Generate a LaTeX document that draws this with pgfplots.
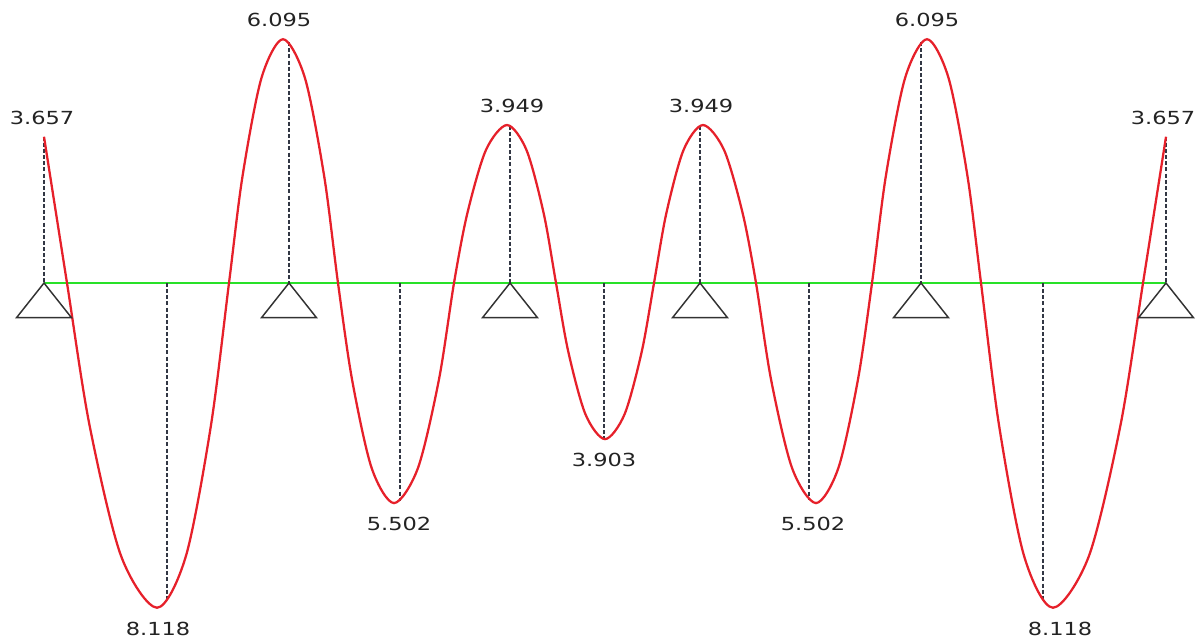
\documentclass[border=0pt]{standalone}
\usepackage{fontspec}
\setmainfont[FakeStretch=1.25]{DejaVu Sans}
\usepackage{pgfplots}
\usepackage{pgfplotstable}
\pgfplotsset{compat=1.18}

\definecolor{bmred}{RGB}{230,32,42}
\definecolor{bmgreen}{RGB}{40,225,40}
\definecolor{dropgray}{RGB}{50,55,68}
\definecolor{trigray}{RGB}{50,50,50}
\definecolor{labgray}{RGB}{35,35,35}

% support symbol: apex on the beam line
\pgfdeclareplotmark{support}{%
  \pgfpathmoveto{\pgfpoint{0pt}{0pt}}%
  \pgfpathlineto{\pgfpoint{-20.6pt}{-26pt}}%
  \pgfpathlineto{\pgfpoint{20.6pt}{-26pt}}%
  \pgfpathclose
  \pgfusepathqstroke}

% bending moment curve (x position, moment; hogging drawn up)
\pgfplotstableread{
x y
44 3.657
67 0
89.5 -3.552
121 -6.819
157 -8.118
186 -6.819
211 -3.552
229 0
242.5 2.667
261.4 5.120
283 6.095
305 5.120
324.2 2.667
338 0
352 -2.407
371.6 -4.622
394 -5.502
418 -4.622
439 -2.407
454 0
467.2 1.728
485.8 3.317
507 3.949
526.6 3.317
543.8 1.728
556 0
568.2 -1.708
585.4 -3.279
605 -3.903
624.6 -3.279
641.8 -1.708
654 0
666.2 1.728
683.4 3.317
703 3.949
724.2 3.317
742.8 1.728
756 0
771 -2.407
792 -4.622
816 -5.502
838.4 -4.622
858 -2.407
872 0
885.8 2.667
905 5.120
927 6.095
948.6 5.120
967.5 2.667
981 0
999 -3.552
1024 -6.819
1053 -8.118
1089 -6.819
1120.5 -3.552
1143 0
1166 3.657
}\curve

% dashed ordinates (pairs, nan rows break the line)
\pgfplotstableread{
x y
44 3.657
44 0
44 nan
167 0
167 -7.96
167 nan
289 6.02
289 0
289 nan
400 0
400 -5.447
400 nan
510 3.934
510 0
510 nan
604 0
604 -3.903
604 nan
700 3.934
700 0
700 nan
809 0
809 -5.427
809 nan
921 6.02
921 0
921 nan
1043 0
1043 -7.96
1043 nan
1166 3.657
1166 0
}\drops

\pgfplotstableread{
x y
44 0
289 0
510 0
700 0
921 0
1166 0
}\supports

\pgfplotstableread{
x y lab
42 3.657 3.657
279 6.095 6.095
512 3.949 3.949
701 3.949 3.949
927 6.095 6.095
1163 3.657 3.657
}\peaks

\pgfplotstableread{
x y lab
158 -8.118 8.118
399 -5.502 5.502
604 -3.903 3.903
813 -5.502 5.502
1060 -8.118 8.118
}\troughs

\begin{document}
\begin{tikzpicture}
\begin{axis}[
    scale only axis,
    width=900.75pt, height=480.75pt,
    xmin=0, xmax=1201,
    ymin=-8.95, ymax=7.075,
    hide axis,
    clip=false,
]
\path (rel axis cs:0,0) rectangle (rel axis cs:1,1);

\addplot[bmgreen, line width=1.1pt] coordinates {(44,0) (1166,0)};
\addplot[draw=dropgray, line width=2.2pt, line cap=butt,
    dash pattern=on 3pt off 1.6pt,
    unbounded coords=jump] table {\drops};
\addplot[bmred, line width=1.7pt, smooth, tension=0.5] table {\curve};
\addplot[only marks, mark=support, mark options={draw=trigray, line width=1.1pt, solid}] table {\supports};

\addplot[only marks, mark=none, nodes near coords, point meta=explicit symbolic,
    nodes near coords style={anchor=south, yshift=5.5pt, text=labgray, font=\fontsize{13.5}{15}\selectfont}]
    table[meta=lab] {\peaks};
\addplot[only marks, mark=none, nodes near coords, point meta=explicit symbolic,
    nodes near coords style={anchor=north, yshift=-7.2pt, text=labgray, font=\fontsize{13.5}{15}\selectfont}]
    table[meta=lab] {\troughs};
\end{axis}
\end{tikzpicture}
\end{document}
